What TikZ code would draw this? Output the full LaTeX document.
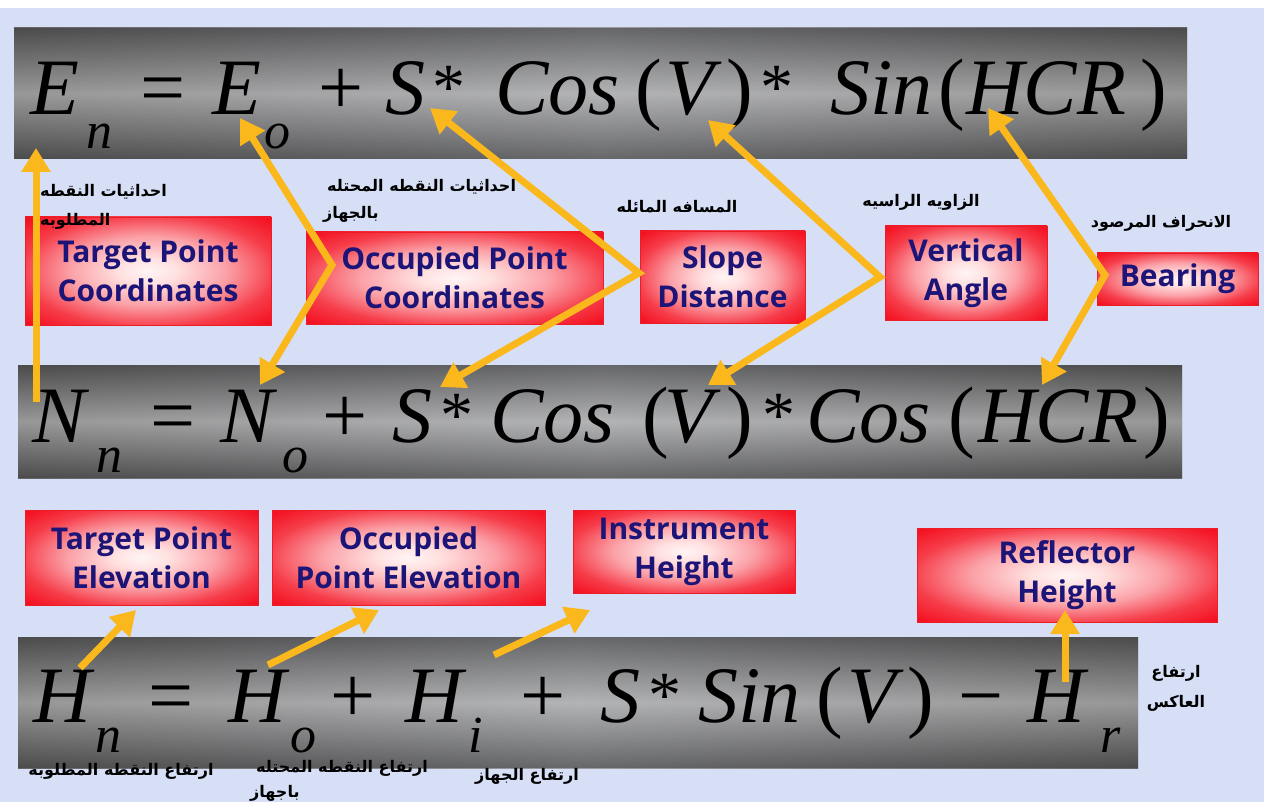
\documentclass[tikz,border=0pt]{standalone}
\usepackage{fontspec}
\usetikzlibrary{arrows.meta}
\setmainfont{Liberation Serif}
\newfontfamily\boxfont{Open Sans}
\newfontfamily\arabicfont[Script=Arabic]{DejaVu Sans}
\newfontfamily\eqfont{Liberation Serif}
\TeXXeTstate=1
\definecolor{bgc}{RGB}{214,223,246}
\definecolor{navy}{RGB}{28,20,118}
\definecolor{arrowc}{RGB}{250,184,28}
\definecolor{boxedge}{RGB}{235,30,40}
\definecolor{redc}{RGB}{244,18,34}
\definecolor{bandDark}{RGB}{100,100,104}
\definecolor{bandLight}{RGB}{208,211,218}
\pgfdeclareradialshading{boxglow}{\pgfpoint{0bp}{0bp}}{%
  color(0bp)=(white!96!red);
  color(6bp)=(white!88!red);
  color(16bp)=(redc!40!white);
  color(26bp)=(redc!82!white);
  color(34bp)=(redc);
  color(100bp)=(redc)}
\tikzset{
  eqtok/.style={anchor=base west, inner sep=0pt, font=\eqfont\itshape\fontsize{80}{80}\selectfont},
  eqop/.style={anchor=base west, inner sep=0pt, font=\eqfont\fontsize{80}{80}\selectfont},
  eqast/.style={anchor=base west, inner sep=0pt, font=\eqfont\fontsize{66}{66}\selectfont},
  eqsub/.style={anchor=base west, inner sep=0pt, font=\eqfont\itshape\fontsize{52}{52}\selectfont},
  redbox/.style={draw=boxedge, line width=0.8pt, shading=boxglow, inner sep=0pt,
    font=\boxfont\bfseries\fontsize{30}{39}\selectfont, text=navy, align=center},
  artext/.style={inner sep=0pt, font=\arabicfont\bfseries\fontsize{16}{18}\selectfont},
  yarr/.style={draw=arrowc, line width=7pt, -{Triangle[length=24pt,width=28pt]}},
  yarrtwo/.style={draw=arrowc, line width=7pt, {Triangle[length=24pt,width=28pt]}-{Triangle[length=24pt,width=28pt]}},
  bandshade/.style={left color=bandDark, right color=bandDark, middle color=bandLight},
  bandgloss/.style={top color=black!60, bottom color=black!60, middle color=white, fill opacity=0.5},
}
\begin{document}
\begin{tikzpicture}[x=1pt,y=-1pt]
\useasboundingbox (0,0) rectangle (1264,802);
\fill[bgc] (0,0) rectangle (1264,802);
\fill[white] (0,0) rectangle (1264,8);

% bands
\fill[bandshade] (14,28) rectangle (1187,159);
\fill[bandgloss] (14,28) rectangle (1187,159);
\fill[bandshade] (18,365) rectangle (1182,478);
\fill[bandgloss] (18,365) rectangle (1182,478);
\fill[bandshade] (18,637) rectangle (1138,768);
\fill[bandgloss] (18,637) rectangle (1138,768);

% equation 1
\foreach \px/\tx in {30/E, 212/E, 385/S, 495/Cos, 665/V, 830/Sin, 966/HCR}
  \node[eqtok] (ea\px) at (\px,115) {\tx};
\foreach \px/\tx in {140/{=}, 318/{+}, 635/{(}, 726/{)}, 938/{(}, 1140/{)}}
  \node[eqop] (eb\px) at (\px,115) {\tx};
\foreach \px in {432, 760}
  \node[eqast] (ec\px) at (\px,110) {*};
\node[eqsub] (es1) at (86,149) {n};
\node[eqsub] (es2) at (264,149) {o};

% equation 2
\foreach \px/\tx in {32/N, 220/N, 392/S, 490/Cos, 664/V, 806/Cos, 978/HCR}
  \node[eqtok] (na\px) at (\px,442) {\tx};
\foreach \px/\tx in {150/{=}, 322/{+}, 642/{(}, 726/{)}, 948/{(}, 1143/{)}}
  \node[eqop] (nb\px) at (\px,442) {\tx};
\foreach \px in {440, 762}
  \node[eqast] (nc\px) at (\px,437) {*};
\node[eqsub] (ns1) at (96,472) {n};
\node[eqsub] (ns2) at (282,472) {o};

% equation 3
\foreach \px/\tx in {33/H, 228/H, 405/H, 600/S, 698/Sin, 847/V, 1027/H}
  \node[eqtok] (ha\px) at (\px,722) {\tx};
\foreach \px/\tx in {148/{=}, 330/{+}, 520/{+}, 816/{(}, 907/{)}, 958/{−}}
  \node[eqop] (hb\px) at (\px,722) {\tx};
\node[eqast] (hc1) at (648,717) {*};
\node[eqsub] (hs1) at (95,752) {n};
\node[eqsub] (hs2) at (290,752) {o};
\node[eqsub] (hs3) at (468,752) {i};
\node[eqsub] (hs4) at (1100,752) {r};

% boxes
\node[redbox, minimum width=246pt, minimum height=108pt] (tpc) at (148,271) {Target Point\\Coordinates};
\node[redbox, minimum width=297pt, minimum height=92pt] (opc) at (454.5,278) {Occupied Point\\Coordinates};
\node[redbox, minimum width=165pt, minimum height=92pt] (sd) at (722.5,277) {Slope\\Distance};
\node[redbox, minimum width=162pt, minimum height=94pt] (va) at (966,273) {Vertical\\Angle};
\node[redbox, minimum width=161pt, minimum height=52pt] (br) at (1177.5,279) {Bearing};
\node[redbox, minimum width=233pt, minimum height=95pt] (tpe) at (141.5,557.5) {Target Point\\Elevation};
\node[redbox, minimum width=273pt, minimum height=95pt] (ope) at (408.5,557.5) {Occupied\\Point Elevation};
\node[redbox, minimum width=222pt, minimum height=83pt] (ih) at (684,551.5) {Instrument\\Height};
\node[redbox, minimum width=300pt, minimum height=94pt] (rh) at (1067,575) {Reflector\\Height};

% arrow points
\coordinate (pEn) at (36,148);
\coordinate (pNn) at (36,402);
\coordinate (pEo) at (240,118);
\coordinate (vOpc) at (332,265);
\coordinate (pNo) at (260,385);
\coordinate (pS1) at (430,108);
\coordinate (vSd) at (639,273);
\coordinate (pS2) at (440,387);
\coordinate (pV1) at (708,120);
\coordinate (vVa) at (880,277);
\coordinate (pV2) at (708,385);
\coordinate (pH1) at (988,108);
\coordinate (vBr) at (1105,275);
\coordinate (pH2) at (1042,385);
\coordinate (pHn) at (80,668);
\coordinate (tTpe) at (136,610);
\coordinate (pHo) at (268,665);
\coordinate (tOpe) at (379,610);
\coordinate (pHi) at (494,655);
\coordinate (tIh) at (590,610);
\coordinate (pHr) at (1065,682);
\coordinate (tRh) at (1065,610);

% arrows
\draw[yarr] (pNn) -- (pEn);
\draw[yarrtwo] (pEo) -- (vOpc) -- (pNo);
\draw[yarrtwo] (pS1) -- (vSd) -- (pS2);
\draw[yarrtwo] (pV1) -- (vVa) -- (pV2);
\draw[yarrtwo] (pH1) -- (vBr) -- (pH2);
\draw[yarr] (pHn) -- (tTpe);
\draw[yarr] (pHo) -- (tOpe);
\draw[yarr] (pHi) -- (tIh);
\draw[yarr] (pHr) -- (tRh);

% arabic labels
\node[artext, anchor=west] (ar1a) at (40,192) {\beginR احداثيات النقطه\endR};
\node[artext, anchor=west] (ar1b) at (40,221) {\beginR المطلوبه\endR};
\node[artext, anchor=west] (ar2a) at (327,187) {\beginR احداثيات النقطه المحتله\endR};
\node[artext, anchor=west] (ar2b) at (323,214) {\beginR بالجهاز\endR};
\node[artext] (ar3) at (677,207) {\beginR المسافه المائله\endR};
\node[artext] (ar4) at (921,202) {\beginR الزاويه الراسيه\endR};
\node[artext] (ar5) at (1161,223) {\beginR الانحراف المرصود\endR};
\node[artext] (ar6a) at (1176,673) {\beginR ارتفاع\endR};
\node[artext] (ar6b) at (1176,703) {\beginR العاكس\endR};
\node[artext] (ar7) at (121,771) {\beginR ارتفاع النقطه المطلوبه\endR};
\node[artext] (ar8a) at (342,768) {\beginR ارتفاع النقطه المحتله\endR};
\node[artext, anchor=west] (ar8b) at (250,793) {\beginR باجهاز\endR};
\node[artext] (ar9) at (527,776) {\beginR ارتفاع الجهاز\endR};
\end{tikzpicture}
\end{document}
